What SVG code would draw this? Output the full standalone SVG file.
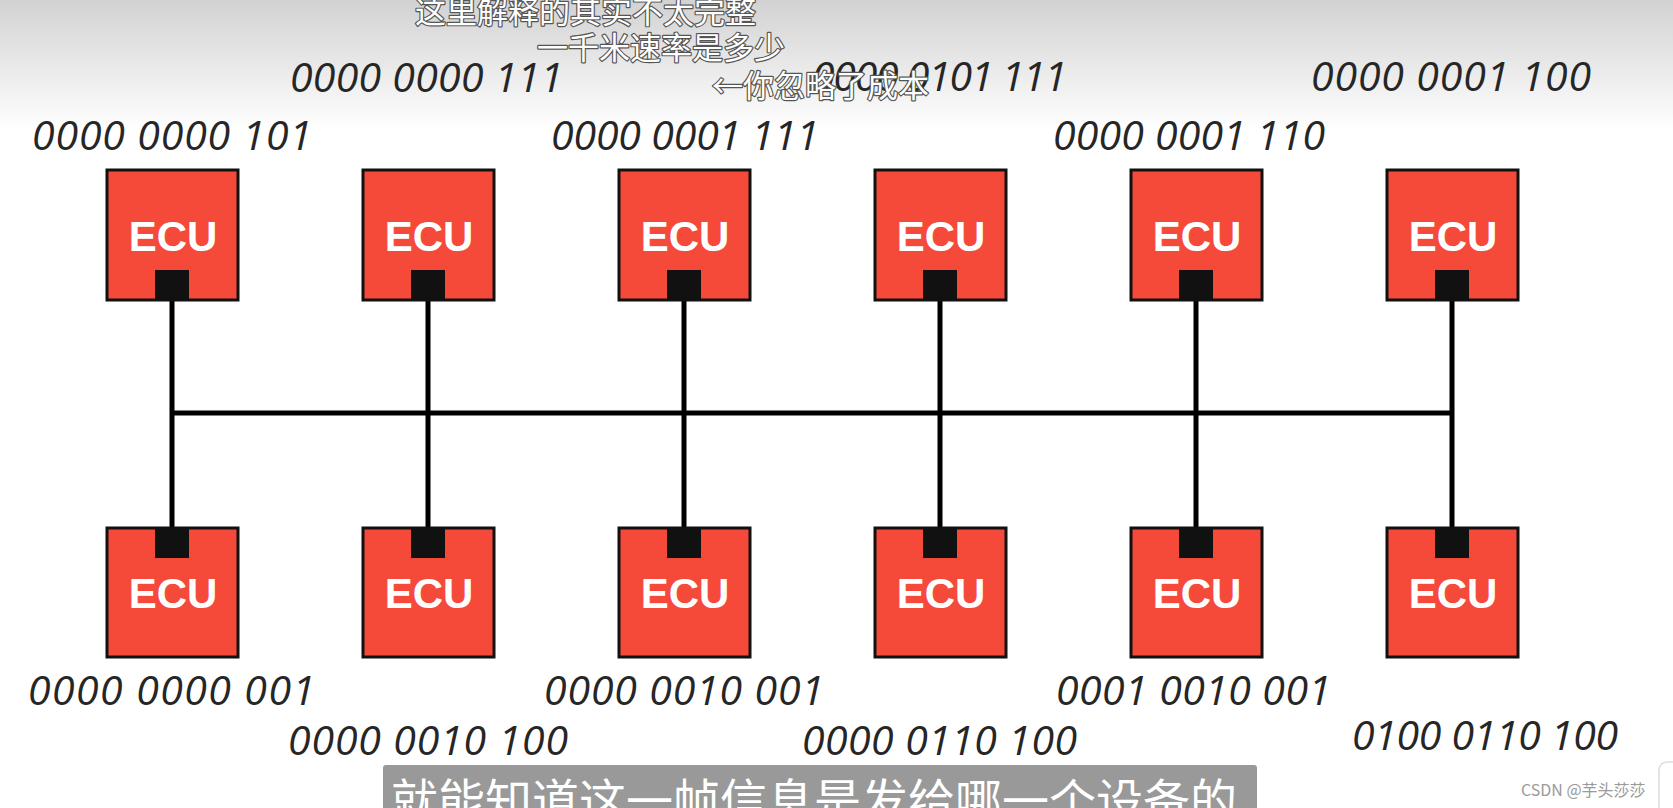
<svg xmlns="http://www.w3.org/2000/svg" width="1673" height="808" viewBox="0 0 1673 808">
<defs>
<linearGradient id="bg" x1="0" y1="0" x2="0" y2="1">
<stop offset="0" stop-color="#d2d2d2"/>
<stop offset="1" stop-color="#ffffff"/>
</linearGradient>
<style>
.box{fill:#f54a3a;stroke:#111;stroke-width:3}
.port{fill:#111}
.ecu{font-family:"Liberation Sans",Arial,sans-serif;font-weight:bold;font-size:42px;fill:#fff;text-anchor:middle}
.bin{font-family:"Open Sans","DejaVu Sans",sans-serif;font-style:italic;font-size:41px;fill:#262626}
.wire{stroke:#000;stroke-width:5;fill:none}
.note{font-family:"Noto Sans CJK SC",sans-serif;font-size:31px;fill:#fff;stroke:#555;stroke-width:2.4;paint-order:stroke;stroke-linejoin:round}
.cap{font-family:"Noto Sans CJK SC",sans-serif;font-size:47px;fill:#fff}
.wm{font-family:"Noto Sans CJK SC",sans-serif;font-size:16px;fill:#9a9a9a}
</style>
</defs>
<rect width="1673" height="808" fill="#fff"/>
<rect width="1673" height="130" fill="url(#bg)"/>

<g id="connectors">
<line class="wire" x1="172" y1="413" x2="1452" y2="413"/>
<line class="wire" x1="172" y1="285" x2="172" y2="543"/>
<line class="wire" x1="428" y1="285" x2="428" y2="543"/>
<line class="wire" x1="684" y1="285" x2="684" y2="543"/>
<line class="wire" x1="940" y1="285" x2="940" y2="543"/>
<line class="wire" x1="1196" y1="285" x2="1196" y2="543"/>
<line class="wire" x1="1452" y1="285" x2="1452" y2="543"/>
</g>

<g id="ecu-top-1"><rect class="box" x="107" y="170" width="131" height="130"/><rect class="port" x="155" y="270" width="34" height="30"/><text class="ecu" x="173" y="251">ECU</text></g>
<g id="ecu-top-2"><rect class="box" x="363" y="170" width="131" height="130"/><rect class="port" x="411" y="270" width="34" height="30"/><text class="ecu" x="429" y="251">ECU</text></g>
<g id="ecu-top-3"><rect class="box" x="619" y="170" width="131" height="130"/><rect class="port" x="667" y="270" width="34" height="30"/><text class="ecu" x="685" y="251">ECU</text></g>
<g id="ecu-top-4"><rect class="box" x="875" y="170" width="131" height="130"/><rect class="port" x="923" y="270" width="34" height="30"/><text class="ecu" x="941" y="251">ECU</text></g>
<g id="ecu-top-5"><rect class="box" x="1131" y="170" width="131" height="130"/><rect class="port" x="1179" y="270" width="34" height="30"/><text class="ecu" x="1197" y="251">ECU</text></g>
<g id="ecu-top-6"><rect class="box" x="1387" y="170" width="131" height="130"/><rect class="port" x="1435" y="270" width="34" height="30"/><text class="ecu" x="1453" y="251">ECU</text></g>

<g id="ecu-bot-1"><rect class="box" x="107" y="528" width="131" height="129"/><rect class="port" x="155" y="528" width="34" height="30"/><text class="ecu" x="173" y="608">ECU</text></g>
<g id="ecu-bot-2"><rect class="box" x="363" y="528" width="131" height="129"/><rect class="port" x="411" y="528" width="34" height="30"/><text class="ecu" x="429" y="608">ECU</text></g>
<g id="ecu-bot-3"><rect class="box" x="619" y="528" width="131" height="129"/><rect class="port" x="667" y="528" width="34" height="30"/><text class="ecu" x="685" y="608">ECU</text></g>
<g id="ecu-bot-4"><rect class="box" x="875" y="528" width="131" height="129"/><rect class="port" x="923" y="528" width="34" height="30"/><text class="ecu" x="941" y="608">ECU</text></g>
<g id="ecu-bot-5"><rect class="box" x="1131" y="528" width="131" height="129"/><rect class="port" x="1179" y="528" width="34" height="30"/><text class="ecu" x="1197" y="608">ECU</text></g>
<g id="ecu-bot-6"><rect class="box" x="1387" y="528" width="131" height="129"/><rect class="port" x="1435" y="528" width="34" height="30"/><text class="ecu" x="1453" y="608">ECU</text></g>

<g id="ids">
<text class="bin" x="32" y="150" textLength="280" lengthAdjust="spacing">0000 0000 101</text>
<text class="bin" x="551" y="150" textLength="268" lengthAdjust="spacing">0000 0001 111</text>
<text class="bin" x="1053" y="150" textLength="272" lengthAdjust="spacing">0000 0001 110</text>
<text class="bin" x="290" y="92" textLength="273" lengthAdjust="spacing">0000 0000 111</text>
<text class="bin" x="812" y="91" textLength="255" lengthAdjust="spacing">0000 0101 111</text>
<text class="bin" x="1311" y="91" textLength="280" lengthAdjust="spacing">0000 0001 100</text>
<text class="bin" x="28" y="705" textLength="287" lengthAdjust="spacing">0000 0000 001</text>
<text class="bin" x="544" y="705" textLength="280" lengthAdjust="spacing">0000 0010 001</text>
<text class="bin" x="1056" y="705" textLength="275" lengthAdjust="spacing">0001 0010 001</text>
<text class="bin" x="288" y="755" textLength="280" lengthAdjust="spacing">0000 0010 100</text>
<text class="bin" x="802" y="755" textLength="275" lengthAdjust="spacing">0000 0110 100</text>
<text class="bin" x="1352" y="750" textLength="266" lengthAdjust="spacing">0100 0110 100</text>
</g>

<g id="comments">
<text class="note" x="415" y="23">这里解释的其实不太完整</text>
<text class="note" x="537" y="59">一千米速率是多少</text>
<text class="note" x="712" y="97">←你忽略了成本</text>
</g>

<g id="caption">
<rect x="383" y="765" width="874" height="50" rx="3" fill="#999"/>
<text class="cap" x="391" y="818">就能知道这一帧信息是发给哪一个设备的</text>
</g>
<text class="wm" x="1521" y="796">CSDN @芋头莎莎</text>
<rect x="1659" y="762" width="30" height="60" rx="8" fill="#fff" stroke="#ddd" stroke-width="1.5"/>
</svg>
